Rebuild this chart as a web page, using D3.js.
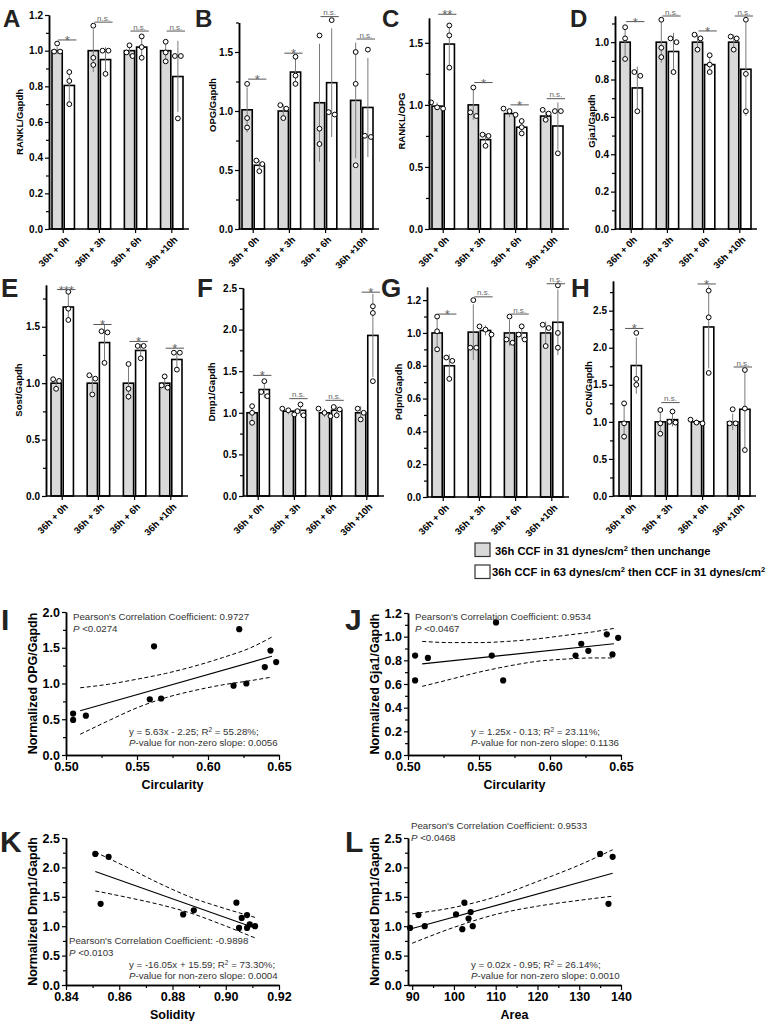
<!DOCTYPE html>
<html><head><meta charset="utf-8">
<script src="https://cdn.jsdelivr.net/npm/d3@7"></script>
<style>
body{margin:0;background:#fff;}
svg{display:block;font-family:"Liberation Sans",Arial,Helvetica,sans-serif;}
</style></head><body>
<script>
const GROUPS = ['36h + 0h', '36h + 3h', '36h + 6h', '36h +10h'];

// bar values: gray, white for each group in GROUPS order
const RANKL_MEAN = [1.00, 0.805, 1.00, 0.95, 1.00, 1.02, 1.00, 0.855];
const RANKL_SD   = [0.02, 0.09, 0.12, 0.07, 0.03, 0.06, 0.05, 0.20];
const RANKL_PTS  = [[1.04,0.995,0.995],[0.88,0.83,0.70],[1.14,0.96,0.92],[1.00,1.00,0.87],[1.03,0.99,0.97],[1.08,1.02,0.96],[1.05,0.99,0.94],[0.97,0.97,0.62]];
const RANKL_SIG  = [['*',1.06],['n.s.',1.16],['n.s.',1.11],['n.s.',1.11]];

const OPG_MEAN = [1.01, 0.54, 1.00, 1.33, 1.07, 1.24, 1.09, 1.03];
const OPG_SD   = [0.19, 0.045, 0.055, 0.12, 0.50, 0.46, 0.49, 0.42];
const OPG_PTS  = [[1.23,0.94,0.86],[0.58,0.55,0.49],[1.05,0.94,1.02],[1.46,1.30,1.23],[1.64,0.85,0.72],[1.77,0.97,0.99],[1.50,1.23,0.54],[1.52,0.78,0.79]];
const OPG_SIG  = [['*',1.27],['*',1.49],['n.s.',1.80],['n.s.',1.61]];

const RATIO_MEAN = [0.99, 1.49, 1.00, 0.72, 0.93, 0.82, 0.91, 0.83];
const RATIO_SD   = [0.03, 0.17, 0.12, 0.05, 0.03, 0.05, 0.04, 0.19];
const RATIO_PTS  = [[1.02,0.98,0.97],[1.64,1.56,1.30],[1.14,0.94,0.91],[0.76,0.75,0.67],[0.97,0.95,0.92],[0.87,0.82,0.77],[0.96,0.93,0.88],[0.95,0.95,0.61]];
const RATIO_SIG  = [['**',1.73],['*',1.18],['*',1.00],['n.s.',1.05]];

const GJA1_MEAN = [1.00, 0.755, 1.00, 0.95, 1.00, 0.88, 1.00, 0.855];
const GJA1_SD   = [0.09, 0.115, 0.11, 0.10, 0.04, 0.05, 0.04, 0.25];
const GJA1_PTS  = [[1.08,1.02,0.91],[0.84,0.82,0.63],[1.12,0.97,0.92],[1.02,1.00,0.84],[1.04,1.02,0.96],[0.93,0.88,0.84],[1.03,1.02,0.96],[1.12,0.83,0.63]];
const GJA1_SIG  = [['*',1.11],['n.s.',1.14],['*',1.06],['n.s.',1.14]];

const SOST_MEAN = [1.00, 1.675, 1.00, 1.36, 1.00, 1.29, 1.00, 1.21];
const SOST_SD   = [0.03, 0.12, 0.07, 0.16, 0.15, 0.06, 0.05, 0.07];
const SOST_PTS  = [[1.035,1.02,0.95],[1.81,1.66,1.56],[1.07,1.04,0.90],[1.46,1.45,1.18],[1.17,0.95,0.88],[1.33,1.33,1.22],[1.06,0.98,0.96],[1.27,1.27,1.12]];
const SOST_SIG  = [['***',1.83],['*',1.52],['*',1.37],['*',1.31]];

const DMP1_MEAN = [1.00, 1.28, 1.02, 1.03, 1.00, 1.03, 1.00, 1.93];
const DMP1_SD   = [0.10, 0.10, 0.04, 0.07, 0.05, 0.05, 0.08, 0.50];
const DMP1_PTS  = [[1.08,1.00,0.88],[1.38,1.25,1.20],[1.05,1.03,0.98],[1.10,1.02,0.97],[1.05,1.00,0.96],[1.07,1.04,0.97],[1.05,1.00,0.92],[2.28,2.20,1.38]];
const DMP1_SIG  = [['*',1.45],['n.s.',1.17],['n.s.',1.15],['*',2.45]];

const PDPN_MEAN = [1.00, 0.80, 1.005, 1.015, 1.00, 1.00, 1.00, 1.065];
const PDPN_SD   = [0.10, 0.07, 0.17, 0.03, 0.08, 0.04, 0.07, 0.20];
const PDPN_PTS  = [[1.10,1.01,0.90],[0.85,0.83,0.72],[1.20,0.91,0.91],[1.04,1.02,0.99],[1.10,0.96,0.94],[1.04,0.99,0.96],[1.05,1.03,0.92],[1.29,1.00,0.91]];
const PDPN_SIG  = [['*',1.115],['n.s.',1.22],['n.s.',1.115],['n.s.',1.30]];

const OCN_MEAN = [1.00, 1.76, 1.00, 1.03, 1.00, 2.28, 1.00, 1.17];
const OCN_SD   = [0.24, 0.38, 0.17, 0.09, 0.03, 0.56, 0.11, 0.54];
const OCN_PTS  = [[1.25,0.98,0.80],[2.20,1.58,1.50],[1.16,0.98,0.84],[1.14,1.00,0.99],[1.03,0.99,0.98],[2.77,2.41,1.66],[1.17,0.98,0.98],[1.70,1.18,0.62]];
const OCN_SIG  = [['*',2.26],['n.s.',1.26],['*',2.86],['n.s.',1.74]];

// correlation panels
const CIRC     = [0.505, 0.505, 0.514, 0.559, 0.567, 0.562, 0.618, 0.627, 0.640, 0.644, 0.648, 0.622];
const OPG_N    = [0.58, 0.49, 0.55, 0.78, 0.79, 1.52, 0.97, 1.00, 1.23, 1.46, 1.30, 1.76];
const GJA1_N   = [0.84, 0.63, 0.82, 0.84, 0.63, 1.12, 0.84, 0.88, 1.02, 0.85, 0.99, 0.94];
const SOLIDITY = [0.851, 0.853, 0.856, 0.884, 0.888, 0.904, 0.905, 0.906, 0.908, 0.908, 0.909, 0.911];
const DMP1_K   = [2.23, 1.38, 2.18, 1.20, 1.27, 1.40, 0.97, 1.14, 0.97, 1.19, 1.03, 1.00];
const AREA     = [89.5, 91.5, 93.0, 100.5, 102.0, 102.5, 103.5, 104.0, 104.5, 135.0, 137.0, 138.0];
const DMP1_L   = [0.97, 1.19, 1.00, 1.20, 0.95, 1.40, 1.13, 1.24, 1.00, 2.23, 1.38, 2.18];

// fitted lines (ends) and 95% bands
const I_FIT_X = [0.51, 0.645], I_FIT_Y = [0.62, 1.38];
const I_BAND_X = [0.51, 0.53, 0.55, 0.57, 0.59, 0.61, 0.63, 0.645];
const I_BAND_HI = [0.94, 0.99, 1.06, 1.14, 1.24, 1.36, 1.50, 1.65];
const I_BAND_LO = [0.29, 0.48, 0.66, 0.80, 0.90, 0.98, 1.04, 1.09];
const J_FIT_X = [0.51, 0.645], J_FIT_Y = [0.77, 0.94];
const J_BAND_X = [0.51, 0.53, 0.55, 0.57, 0.59, 0.61, 0.63, 0.645];
const J_BAND_HI = [0.96, 0.95, 0.95, 0.96, 0.98, 1.01, 1.04, 1.07];
const J_BAND_LO = [0.58, 0.64, 0.70, 0.75, 0.79, 0.81, 0.82, 0.82];
const K_FIT_X = [0.851, 0.911], K_FIT_Y = [1.93, 0.97];
const K_BAND_X = [0.851, 0.863, 0.875, 0.887, 0.899, 0.911];
const K_BAND_HI = [2.26, 2.00, 1.73, 1.49, 1.31, 1.15];
const K_BAND_LO = [1.60, 1.49, 1.37, 1.22, 1.02, 0.80];
const L_FIT_X = [90, 138], L_FIT_Y = [0.96, 1.90];
const L_BAND_X = [90, 100, 110, 120, 130, 138];
const L_BAND_HI = [1.21, 1.32, 1.50, 1.76, 2.04, 2.30];
const L_BAND_LO = [0.71, 0.98, 1.20, 1.34, 1.44, 1.51];

const I_NOTES = [["Pearson's Correlation Coefficient: 0.9727"], ["<0.0274"], ["y = 5.63x - 2.25; R", " = 55.28%;"], ["-value for non-zero slope: 0.0056"]];
const J_NOTES = [["Pearson's Correlation Coefficient: 0.9534"], ["<0.0467"], ["y = 1.25x - 0.13; R", " = 23.11%;"], ["-value for non-zero slope: 0.1136"]];
const K_NOTES = [["Pearson's Correlation Coefficient: -0.9898"], ["<0.0103"], ["y = -16.05x + 15.59; R", " = 73.30%;"], ["-value for non-zero slope: 0.0004"]];
const L_NOTES = [["Pearson's Correlation Coefficient: 0.9533"], ["<0.0468"], ["y = 0.02x - 0.95; R", " = 26.14%;"], ["-value for non-zero slope: 0.0010"]];

const LEGEND = [["36h CCF in 31 dynes/cm", " then unchange"], ["36h CCF in 63 dynes/cm", " then CCF in 31 dynes/cm", ""]];

const GRAY = '#d9d9d9';

const svg = d3.select('body').append('svg').attr('width', 769).attr('height', 1021);

function styleAxis(sel, size) {
  sel.select('.domain').attr('stroke', '#000').attr('stroke-width', 1.5);
  sel.selectAll('.tick line').attr('stroke', '#000').attr('stroke-width', 1.2);
  sel.selectAll('.tick text').attr('fill', '#000').attr('font-weight', 'bold')
    .attr('font-size', size).attr('font-family', null);
}

function minorOf(max, step, majors, min = 0) {
  return d3.range(min, max + 1e-6, step).filter(v => !majors.some(m => Math.abs(m - v) < 1e-6));
}

function letter(txt, x, y, size) {
  svg.append('text').attr('x', x).attr('y', y).attr('font-size', size)
    .attr('font-weight', 'bold').attr('fill', '#222').text(txt);
}

function barPanel(L, mean, sd, pts, sig) {
  const g = svg.append('g');
  const y = d3.scaleLinear().domain([0, L.yMax]).range([L.y0, L.yTop]);
  const x = d3.scaleBand().domain(GROUPS).range([L.bx, L.bx + 131]).paddingInner(0.38).paddingOuter(0);
  const sub = d3.scaleBand().domain([0, 1]).range([0, x.bandwidth()]).paddingInner(0.16);
  const bw = sub.bandwidth();

  const bars = mean.map((m, i) => {
    const bx = x(GROUPS[i >> 1]) + sub(i % 2);
    return { k: i % 2, mean: m, sd: sd[i], pts: pts[i], x: bx, cx: bx + bw / 2 };
  });

  // bars
  g.selectAll('rect.bar').data(bars).join('rect')
    .attr('x', d => d.x).attr('y', d => y(d.mean))
    .attr('width', bw).attr('height', d => L.y0 - y(d.mean))
    .attr('fill', d => d.k ? '#fff' : GRAY)
    .attr('stroke', '#000').attr('stroke-width', 1.6);

  // SD lines
  g.selectAll('line.err').data(bars).join('line')
    .attr('x1', d => d.cx).attr('x2', d => d.cx)
    .attr('y1', d => y(d.mean - d.sd)).attr('y2', d => y(d.mean + d.sd))
    .attr('stroke', '#7a7a7a').attr('stroke-width', 1);

  // replicate points, spread sideways when they touch
  const r = 2.4;
  bars.forEach(b => {
    const ys = b.pts.map(v => y(v)).sort((a, c) => a - c);
    const clusters = [];
    ys.forEach(py => {
      const last = clusters[clusters.length - 1];
      if (last && py - last[last.length - 1] < 2 * r + 0.6) last.push(py);
      else clusters.push([py]);
    });
    clusters.forEach(c => c.forEach((py, j) => {
      g.append('circle').attr('cx', b.cx + (j - (c.length - 1) / 2) * (2 * r + 1.2)).attr('cy', py)
        .attr('r', r).attr('fill', '#fff').attr('stroke', '#000').attr('stroke-width', 1);
    }));
  });

  // significance marks
  sig.forEach(([lab, v], i) => {
    const a = bars[2 * i], b = bars[2 * i + 1];
    const x1 = a.cx + 1, x2 = b.x + bw + 2, yy = y(v);
    g.append('line').attr('x1', x1).attr('x2', x2).attr('y1', yy).attr('y2', yy)
      .attr('stroke', '#555').attr('stroke-width', 1);
    const star = lab !== 'n.s.';
    g.append('text').attr('x', (x1 + x2) / 2).attr('y', star ? yy + 5 : yy - 1.5)
      .attr('text-anchor', 'middle').attr('fill', '#666')
      .attr('font-size', star ? 13 : 8).text(lab);
  });

  // axes
  const majors = d3.range(0, L.yMax + 1e-6, L.major);
  const mg = g.append('g').attr('transform', `translate(${L.ax},0)`)
    .call(d3.axisLeft(y).tickValues(minorOf(L.yMax, L.minor, majors)).tickSize(3).tickFormat('').tickSizeOuter(0));
  styleAxis(mg, 10);
  const ya = g.append('g').attr('transform', `translate(${L.ax},0)`)
    .call(d3.axisLeft(y).tickValues(majors).tickSize(4).tickPadding(2).tickFormat(d3.format('.1f')).tickSizeOuter(0));
  styleAxis(ya, 10);

  g.append('line').attr('x1', L.ax).attr('x2', L.bx + 137).attr('y1', L.y0).attr('y2', L.y0)
    .attr('stroke', '#000').attr('stroke-width', 1.5);
  GROUPS.forEach(name => {
    const cx = x(name) + x.bandwidth() / 2;
    g.append('line').attr('x1', cx).attr('x2', cx).attr('y1', L.y0).attr('y2', L.y0 + 4)
      .attr('stroke', '#000').attr('stroke-width', 1.2);
    g.append('text').attr('transform', `translate(${cx + 4},${L.y0 + 9}) rotate(-45)`)
      .attr('text-anchor', 'end').attr('dy', '0.35em').attr('font-size', 9.5)
      .attr('font-weight', 'bold').text(name);
  });

  g.append('text').attr('transform', `translate(${L.lx},${L.ly}) rotate(-90)`)
    .attr('text-anchor', 'middle').attr('dy', '0.35em').attr('font-size', 9.5)
    .attr('font-weight', 'bold').text(L.label);
  letter(L.letter, L.tx, L.ty, L.ts);
}

function noteText(g, x, y, parts, style) {
  const t = g.append('text').attr('x', x).attr('y', y).attr('font-size', 9.7).attr('fill', '#333');
  if (style === 'p') t.append('tspan').attr('font-style', 'italic').text('P');
  if (style === 'p') t.append('tspan').text(' ' + parts[0]);
  else if (style === 'pv') { t.append('tspan').attr('font-style', 'italic').text('P'); t.append('tspan').text(parts[0]); }
  else if (parts.length === 2) {
    t.append('tspan').text(parts[0]);
    t.append('tspan').attr('baseline-shift', 'super').attr('font-size', 6.5).text('2');
    t.append('tspan').text(parts[1]);
  } else t.text(parts[0]);
}

function scatterPanel(L, xs, ys, fitX, fitY, bandX, hi, lo, notes) {
  const g = svg.append('g');
  const x = d3.scaleLinear().domain(L.xDom).range([L.ax, L.xEnd]);
  const y = d3.scaleLinear().domain(L.yDom).range([L.y0, L.yTop]);

  const band = d3.line().curve(d3.curveMonotoneX).x(d => x(d[0])).y(d => y(d[1]));
  [hi, lo].forEach(arr => g.append('path').attr('d', band(bandX.map((v, i) => [v, arr[i]])))
    .attr('fill', 'none').attr('stroke', '#000').attr('stroke-width', 1).attr('stroke-dasharray', '4,2.5'));
  g.append('path').attr('d', d3.line().x(d => x(d[0])).y(d => y(d[1]))(fitX.map((v, i) => [v, fitY[i]])))
    .attr('fill', 'none').attr('stroke', '#000').attr('stroke-width', 1.1);

  g.selectAll('circle').data(xs.map((v, i) => [v, ys[i]])).join('circle')
    .attr('cx', d => x(d[0])).attr('cy', d => y(d[1])).attr('r', 3.1).attr('fill', '#000');

  const xMaj = d3.range(L.xDom[0] === 89 ? 90 : L.xDom[0], L.xDom[1] + 1e-6, L.xStep);
  const xMin = d3.range(xMaj[0] + L.xStep / 2, L.xDom[1], L.xStep);
  const yMaj = d3.range(0, L.yDom[1] + 1e-6, L.yStep);
  const yMin = minorOf(L.yDom[1], L.yStep / 2, yMaj);

  const ax1 = g.append('g').attr('transform', `translate(0,${L.y0})`)
    .call(d3.axisBottom(x).tickValues(xMin).tickSize(3).tickFormat('').tickSizeOuter(0));
  styleAxis(ax1, 12);
  const ax2 = g.append('g').attr('transform', `translate(0,${L.y0})`)
    .call(d3.axisBottom(x).tickValues(xMaj).tickSize(5).tickPadding(2).tickFormat(d3.format(L.xFmt)).tickSizeOuter(0));
  styleAxis(ax2, 12.5);
  const ay1 = g.append('g').attr('transform', `translate(${L.ax},0)`)
    .call(d3.axisLeft(y).tickValues(yMin).tickSize(3).tickFormat('').tickSizeOuter(0));
  styleAxis(ay1, 12);
  const ay2 = g.append('g').attr('transform', `translate(${L.ax},0)`)
    .call(d3.axisLeft(y).tickValues(yMaj).tickSize(4).tickPadding(2).tickFormat(d3.format('.1f')).tickSizeOuter(0));
  styleAxis(ay2, 12.5);

  g.append('text').attr('x', (L.ax + L.xEnd) / 2).attr('y', L.y0 + 34).attr('text-anchor', 'middle')
    .attr('font-size', 12.5).attr('font-weight', 'bold').text(L.xLabel);
  g.append('text').attr('transform', `translate(${L.ax - 29},${(L.y0 + L.yTop) / 2}) rotate(-90)`)
    .attr('text-anchor', 'middle').attr('font-size', 12.5).attr('font-weight', 'bold').text(L.yLabel);

  noteText(g, L.n1[0], L.n1[1], notes[0]);
  noteText(g, L.n1[0], L.n1[1] + 12, notes[1], 'p');
  noteText(g, L.n2[0], L.n2[1], notes[2]);
  noteText(g, L.n2[0], L.n2[1] + 11, notes[3], 'pv');
  letter(L.letter, L.tx, L.ty, 30);
}

// ---- bar panels
barPanel({letter:'A', tx:3, ty:27, ts:24, label:'RANKL/Gapdh', lx:20, ly:122, ax:49, bx:52, y0:229, yTop:15, yMax:1.2, major:0.2, minor:0.1}, RANKL_MEAN, RANKL_SD, RANKL_PTS, RANKL_SIG);
barPanel({letter:'B', tx:195, ty:27, ts:24, label:'OPG/Gapdh', lx:213, ly:105, ax:239, bx:242, y0:229, yTop:22.5, yMax:1.75, major:0.5, minor:0.25}, OPG_MEAN, OPG_SD, OPG_PTS, OPG_SIG);
barPanel({letter:'C', tx:382, ty:27, ts:24, label:'RANKL/OPG', lx:402, ly:121, ax:429, bx:432, y0:229, yTop:18, yMax:1.7, major:0.5, minor:0.25}, RATIO_MEAN, RATIO_SD, RATIO_PTS, RATIO_SIG);
barPanel({letter:'D', tx:570, ty:27, ts:24, label:'Gja1/Gapdh', lx:592, ly:121, ax:615, bx:620, y0:229, yTop:16, yMax:1.14, major:0.2, minor:0.1}, GJA1_MEAN, GJA1_SD, GJA1_PTS, GJA1_SIG);
barPanel({letter:'E', tx:1, ty:297, ts:26, label:'Sost/Gapdh', lx:19, ly:390, ax:46, bx:51, y0:496, yTop:285, yMax:1.87, major:0.5, minor:0.25}, SOST_MEAN, SOST_SD, SOST_PTS, SOST_SIG);
barPanel({letter:'F', tx:197, ty:297, ts:26, label:'Dmp1/Gapdh', lx:212, ly:392, ax:243, bx:247, y0:496, yTop:288, yMax:2.5, major:0.5, minor:0.25}, DMP1_MEAN, DMP1_SD, DMP1_PTS, DMP1_SIG);
barPanel({letter:'G', tx:381, ty:297, ts:26, label:'Pdpn/Gapdh', lx:399, ly:392, ax:427, bx:432, y0:497, yTop:287, yMax:1.28, major:0.2, minor:0.1}, PDPN_MEAN, PDPN_SD, PDPN_PTS, PDPN_SIG);
barPanel({letter:'H', tx:571, ty:297, ts:26, label:'OCN/Gapdh', lx:589, ly:388, ax:613, bx:619, y0:496, yTop:281, yMax:2.9, major:0.5, minor:0.25}, OCN_MEAN, OCN_SD, OCN_PTS, OCN_SIG);

// ---- legend
const leg = svg.append('g');
[[GRAY, 543, 495, 555], ['#fff', 565, 492, 576]].forEach(([fill, ry, tx, ty], i) => {
  leg.append('rect').attr('x', 475).attr('y', ry).attr('width', 15).attr('height', 13.5)
    .attr('fill', fill).attr('stroke', '#333').attr('stroke-width', 1.2);
  const t = leg.append('text').attr('x', tx).attr('y', ty).attr('font-size', 11.2).attr('font-weight', 'bold');
  LEGEND[i].forEach((s, j) => {
    if (j > 0) t.append('tspan').attr('baseline-shift', 'super').attr('font-size', 7.5).text('2');
    if (s) t.append('tspan').text(s);
  });
});

// ---- correlation panels
scatterPanel({letter:'I', tx:1, ty:630, ax:66, xEnd:279, xDom:[0.5,0.65], xStep:0.05, xFmt:'.2f', y0:755, yTop:612, yDom:[0,2], yStep:0.5,
  xLabel:'Circularity', yLabel:'Normalized OPG/Gapdh', n1:[73,620], n2:[129,735]},
  CIRC, OPG_N, I_FIT_X, I_FIT_Y, I_BAND_X, I_BAND_HI, I_BAND_LO, I_NOTES);
scatterPanel({letter:'J', tx:345, ty:630, ax:408, xEnd:621, xDom:[0.5,0.65], xStep:0.05, xFmt:'.2f', y0:755, yTop:613, yDom:[0,1.2], yStep:0.2,
  xLabel:'Circularity', yLabel:'Normalized Gja1/Gapdh', n1:[415,620], n2:[471,735]},
  CIRC, GJA1_N, J_FIT_X, J_FIT_Y, J_BAND_X, J_BAND_HI, J_BAND_LO, J_NOTES);
scatterPanel({letter:'K', tx:0, ty:852, ax:66, xEnd:279, xDom:[0.84,0.92], xStep:0.02, xFmt:'.2f', y0:985, yTop:838, yDom:[0,2.5], yStep:0.5,
  xLabel:'Solidity', yLabel:'Normalized Dmp1/Gapdh', n1:[69,944], n2:[129,968]},
  SOLIDITY, DMP1_K, K_FIT_X, K_FIT_Y, K_BAND_X, K_BAND_HI, K_BAND_LO, K_NOTES);
scatterPanel({letter:'L', tx:345, ty:852, ax:408, xEnd:621, xDom:[89,140], xStep:10, xFmt:'d', y0:985, yTop:838, yDom:[0,2.5], yStep:0.5,
  xLabel:'Area', yLabel:'Normalized Dmp1/Gapdh', n1:[411,829], n2:[471,968]},
  AREA, DMP1_L, L_FIT_X, L_FIT_Y, L_BAND_X, L_BAND_HI, L_BAND_LO, L_NOTES);
</script>
</body></html>
